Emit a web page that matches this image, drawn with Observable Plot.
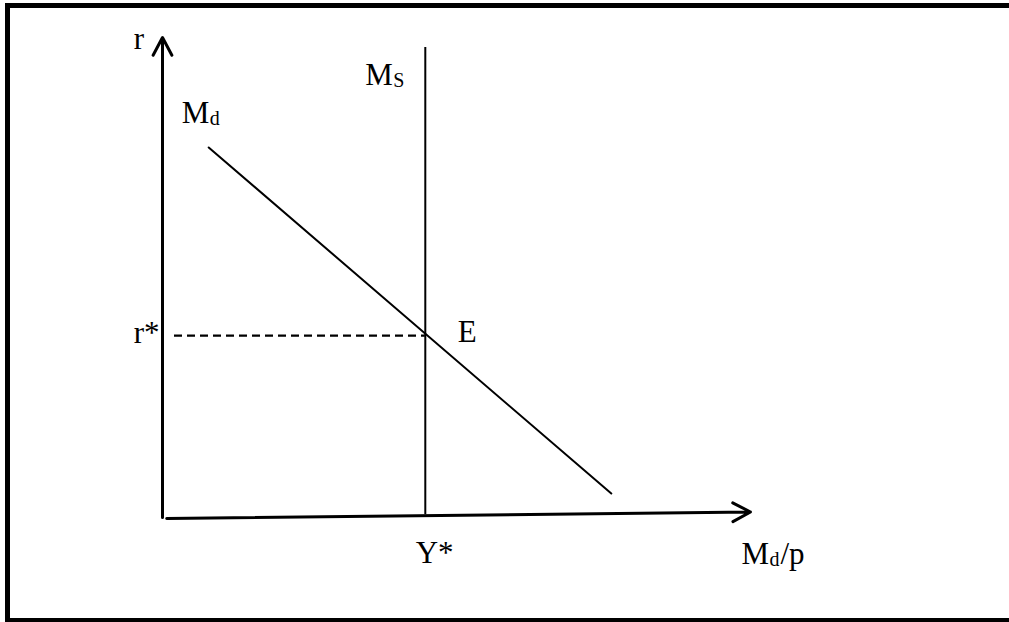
<!DOCTYPE html>
<html>
<head>
<meta charset="utf-8">
<script src="https://cdn.jsdelivr.net/npm/d3@7"></script>
<script src="https://cdn.jsdelivr.net/npm/@observablehq/plot@0.6"></script>
<style>
  html, body { margin: 0; padding: 0; background: #fff; }
  #wrap { position: relative; width: 1009px; height: 622px; overflow: hidden; }
  #frame { position: absolute; left: 5px; top: 3px; width: 1010px; height: 610px;
           border-left: 5px solid #000; border-top: 5px solid #000; border-bottom: 5px solid #000; }
  #chart { position: absolute; left: 0; top: 0; }
</style>
</head>
<body>
<div id="wrap"><div id="frame"></div><div id="chart"></div></div>
<script>
// Conceptual diagram space: x = real money (0..100), y = interest rate (0..100)
const axesArrows = [
  {name: "y-axis", x1: 0, y1: 0.2, x2: 0, y2: 100.2},
  {name: "x-axis", x1: 0.7, y1: 0, x2: 98, y2: 1.35}
];
const moneySupply = [{x: 43.8, y1: 0.8, y2: 98.1}];
const moneyDemand = [{x: 7.7, y: 77.3}, {x: 74.8, y: 5.2}];
const equilibriumRate = [{x1: 2.0, x2: 43.8, y: 38.1}];
// labels: main text, optional subscript, optional rest
const labels = [
  {x: -4.8, y: 97.9, main: "r", sub: "", rest: ""},
  {x: 3.2, y: 82.5, main: "M", sub: "d", rest: ""},
  {x: 33.8, y: 90.4, main: "M", sub: "S", rest: ""},
  {x: -4.8, y: 36.5, main: "r*", sub: "", rest: ""},
  {x: 49.2, y: 36.7, main: "E", sub: "", rest: ""},
  {x: 42.2, y: -9.2, main: "Y*", sub: "", rest: ""},
  {x: 96.5, y: -9.4, main: "M", sub: "d", rest: "/p"}
];

const font = "Liberation Serif, Times New Roman, serif";
const withSub = labels.filter(d => d.sub);
const withRest = labels.filter(d => d.rest);

const plot = Plot.plot({
  width: 1009,
  height: 622,
  marginLeft: 162,
  marginRight: 247,
  marginTop: 38,
  marginBottom: 104,
  x: {domain: [0, 100], axis: null},
  y: {domain: [0, 100], axis: null},
  style: {background: "transparent", overflow: "visible"},
  marks: [
    Plot.arrow(axesArrows, {x1: "x1", y1: "y1", x2: "x2", y2: "y2", stroke: "#000",
      strokeWidth: 3, headLength: 10, headAngle: 56, clip: false}),
    Plot.ruleX(moneySupply, {x: "x", y1: "y1", y2: "y2", stroke: "#000", strokeWidth: 2}),
    Plot.line(moneyDemand, {x: "x", y: "y", stroke: "#000", strokeWidth: 2}),
    Plot.ruleY(equilibriumRate, {y: "y", x1: "x1", x2: "x2", stroke: "#000", strokeWidth: 2.2,
      strokeDasharray: "8,5"}),
    Plot.text(labels, {x: "x", y: "y", text: "main", textAnchor: "start", lineAnchor: "bottom",
      fontSize: 31, fontFamily: font, fill: "#000", clip: false}),
    Plot.text(withSub, {x: "x", y: "y", text: "sub", textAnchor: "start", lineAnchor: "bottom",
      dx: 28, dy: 2, fontSize: 20, fontFamily: font, fill: "#000", clip: false}),
    Plot.text(withRest, {x: "x", y: "y", text: "rest", textAnchor: "start", lineAnchor: "bottom",
      dx: 39, fontSize: 31, fontFamily: font, fill: "#000", clip: false})
  ]
});
document.getElementById("chart").appendChild(plot);
</script>
</body>
</html>
